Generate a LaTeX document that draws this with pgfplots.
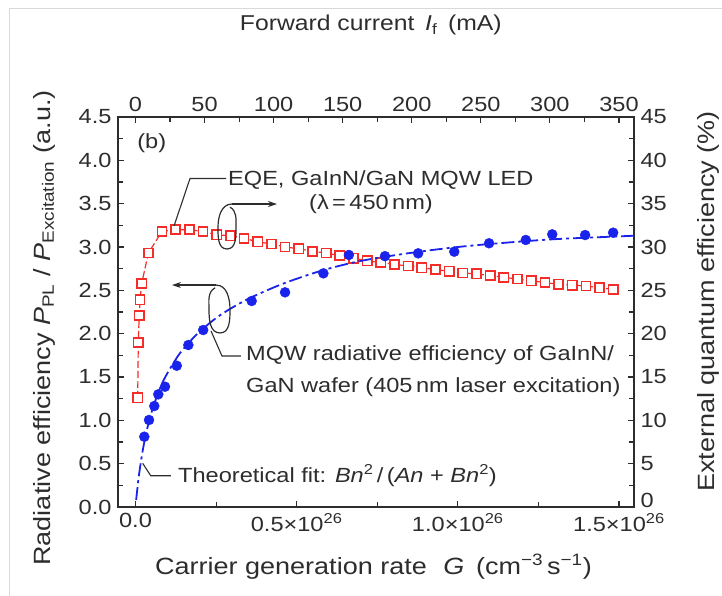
\documentclass[border=0pt]{standalone}
\usepackage{fontspec}
\setmainfont{Liberation Sans}[FakeStretch=1.15]
\usepackage{pgfplots}
\usetikzlibrary{arrows.meta}
\pgfplotsset{compat=1.18}
\definecolor{myblue}{RGB}{25,35,235}
\definecolor{myred}{RGB}{245,45,40}
\definecolor{ink}{RGB}{45,45,45}
\newcommand\fs{\fontsize{20.5}{24}\selectfont}
\newcommand\fl{\fontsize{23.5}{28}\selectfont}
\newcommand\ft{\fontsize{21.5}{26}\selectfont}

\pgfplotstableread{
mA eqe
1.6 12.6
2.0 19.0
2.7 22.1
3.3 23.9
4.5 25.8
9.3 29.3
19.2 31.8
29.1 32.0
39.0 32.0
48.9 31.8
58.8 31.4
68.7 31.3
78.6 31.0
88.5 30.6
98.4 30.35
108.3 30.0
118.2 29.8
128.1 29.5
138.0 29.3
147.9 29.0
157.8 28.7
167.7 28.4
177.6 28.2
187.5 28.0
197.4 27.8
207.3 27.6
217.2 27.4
227.1 27.2
237.0 27.0
246.9 26.9
256.8 26.7
266.7 26.5
276.6 26.3
286.5 26.1
296.4 25.9
306.3 25.7
316.2 25.6
326.1 25.5
336.0 25.3
345.9 25.1
}\eqetable

\pgfplotstableread{
G eff
0.0273 0.811
0.0419 1.004
0.0583 1.165
0.0707 1.300
0.0915 1.388
0.128 1.630
0.164 1.869
0.210 2.042
0.3605 2.377
0.464 2.477
0.583 2.696
0.662 2.908
0.774 2.894
0.877 2.927
0.989 2.946
1.097 3.043
1.211 3.081
1.293 3.146
1.395 3.138
1.482 3.165
}\efftable

\pgfplotstableread{
G fit
0.002 0.08
0.0106 0.364
0.0231 0.667
0.0375 0.923
0.0539 1.143
0.0722 1.333
0.0924 1.500
0.1385 1.778
0.1924 2.000
0.25 2.18
0.30 2.30
0.36 2.42
0.46 2.58
0.58 2.73
0.70 2.84
0.85 2.93
1.00 3.00
1.15 3.05
1.30 3.09
1.45 3.115
1.547 3.13
}\fittable

\begin{document}
\begin{tikzpicture}[font=\fs, text=ink]
\useasboundingbox (-118pt,-89pt) rectangle (604pt,507pt);
\draw[black!15, line width=1pt] (-108pt,-89pt) -- (-108pt,498pt) -- (604pt,498pt);

% EQE axis (top / right)
\begin{axis}[
  at={(0pt,0pt)}, anchor=south west,
  scale only axis, width=516pt, height=390pt,
  xmin=-12.67, xmax=360.9, ymin=0, ymax=45,
  axis x line*=top, axis y line*=right,
  xtick={0,50,...,350}, minor xtick={25,75,...,325},
  ytick={0,5,...,45},
  yticklabels={\raisebox{13pt}{0},5,10,15,20,25,30,35,40,45},
  minor ytick={2.5,7.5,...,42.5},
  tick align=inside, major tick length=6pt, minor tick length=5pt,
  every tick/.style={ink, line width=1.1pt},
  axis line style={ink, line width=1.5pt},
  ticklabel style={font=\fs, text=ink},
  /pgf/number format/assume math mode=true,
  xticklabel style={yshift=2pt},
  yticklabel style={xshift=3pt},
  clip=false,
]
\addplot[myred, line width=1.2pt, dash pattern=on 7pt off 3pt,
  mark=square*, mark size=4.6pt,
  mark options={solid, fill=white, draw=myred, line width=1.6pt}]
  table[x=mA, y=eqe] {\eqetable};
\node[anchor=center, font=\ft] at (rel axis cs:0.490,1.236) {Forward current\enspace \textit{I}\textsubscript{f}\enspace(mA)};
\node[anchor=center, rotate=90, font=\fl] at (rel axis cs:1.1434,0.527) {External quantum efficiency (\%)};
\end{axis}

% Radiative efficiency axis (bottom / left)
\begin{axis}[
  at={(0pt,0pt)}, anchor=south west,
  scale only axis, width=516pt, height=390pt,
  xmin=-0.0543, xmax=1.5467, ymin=0, ymax=4.5,
  xtick={0,0.5,1,1.5},
  xticklabels={0.0, 0.5×10\textsuperscript{26}, 1.0×10\textsuperscript{26}, 1.5×10\textsuperscript{26}},
  minor xtick={0.25,0.75,1.25},
  ytick={0,0.5,...,4.5},
  yticklabels={0.0,0.5,1.0,1.5,2.0,2.5,3.0,3.5,4.0,4.5},
  minor ytick={0.25,0.75,...,4.25},
  xtick pos=left, ytick pos=left,
  tick align=inside, major tick length=6pt, minor tick length=5pt,
  every tick/.style={ink, line width=1.1pt},
  axis line style={ink, line width=1.5pt},
  ticklabel style={font=\fs, text=ink},
  /pgf/number format/assume math mode=true,
  xticklabel style={yshift=-3pt},
  yticklabel style={xshift=-3pt},
  clip=false,
]
\addplot[myblue, line width=1.8pt, smooth, dash pattern=on 13pt off 4pt on 3pt off 4pt]
  table[x=G, y=fit] {\fittable};
\addplot[only marks, mark=*, mark size=5pt, mark options={fill=myblue, draw=myblue}]
  table[x=G, y=eff] {\efftable};

% labels
\node[anchor=center, font=\fl] at (rel axis cs:0.495,-0.154) {Carrier generation rate\hspace{0.7em}\textit{G}\hspace{0.5em}(cm\textsuperscript{−3}\,s\textsuperscript{−1})};
\node[anchor=center, rotate=90, font=\fl] at (rel axis cs:-0.1434,0.459) {Radiative efficiency \textit{P}\textsubscript{PL} / \textit{P}\textsubscript{Excitation} (a.u.)};

% annotations
\node[anchor=center] at (axis cs:0.0503,4.196) {(b)};
\node[anchor=west, inner sep=0pt] at (axis cs:0.287,3.773) {EQE, GaInN/GaN MQW LED};
\node[anchor=east, inner sep=0pt] at (axis cs:0.923,3.496) {(λ\,=\,450\,nm)};
\draw[ink, line width=1.1pt] (axis cs:0.2808,3.790) -- (axis cs:0.1691,3.790) -- (axis cs:0.1195,3.242);
% loop 1 with arrow to the right
\draw[ink, line width=1.2pt] (axis cs:0.2994,3.496) to[out=180,in=90] (axis cs:0.256,3.231)
  to[out=-90,in=180] (axis cs:0.2839,2.977) to[out=0,in=-90] (axis cs:0.3118,3.231)
  to[out=90,in=-30] (axis cs:0.2932,3.46);
\draw[ink, line width=1.2pt, -{Stealth[length=9pt,width=6pt]}] (axis cs:0.2994,3.496) -- (axis cs:0.439,3.496);
% loop 2 with arrow to the left
\draw[ink, line width=1.2pt] (axis cs:0.2498,2.561) to[out=0,in=90] (axis cs:0.2932,2.273)
  to[out=-90,in=0] (axis cs:0.2622,2.008) to[out=180,in=-90] (axis cs:0.2281,2.273)
  to[out=90,in=210] (axis cs:0.247,2.53);
\draw[ink, line width=1.2pt, -{Stealth[length=9pt,width=6pt]}] (axis cs:0.2498,2.561) -- (axis cs:0.1132,2.561);
\draw[ink, line width=1.1pt] (axis cs:0.2343,2.031) -- (axis cs:0.2684,1.742) -- (axis cs:0.3273,1.742);
\node[anchor=west, inner sep=0pt] at (axis cs:0.3429,1.754) {MQW radiative efficiency of GaInN/};
\node[anchor=west, inner sep=0pt] at (axis cs:0.3429,1.385) {GaN wafer (405\,nm laser excitation)};
\draw[ink, line width=1.1pt] (axis cs:0.0223,0.504) -- (axis cs:0.0472,0.361) -- (axis cs:0.1101,0.361);
\node[anchor=west, inner sep=0pt] at (axis cs:0.1319,0.363) {Theoretical fit: \textit{Bn}\textsuperscript{2}\,/\,(\textit{An} + \textit{Bn}\textsuperscript{2})};
\end{axis}
\end{tikzpicture}
\end{document}
